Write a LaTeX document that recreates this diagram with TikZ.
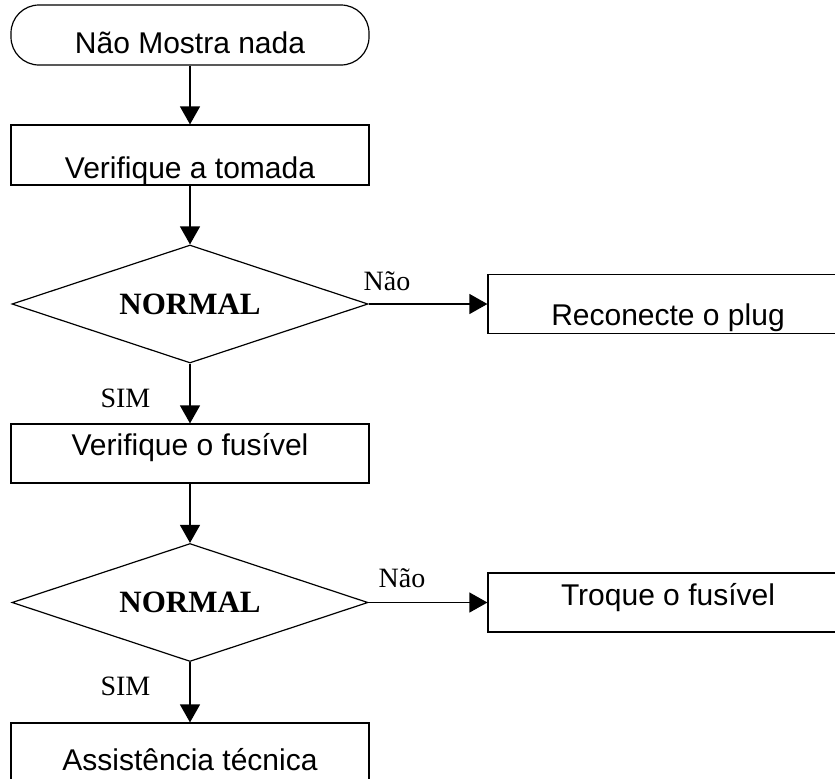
\documentclass[tikz,border=0pt]{standalone}
\usepackage{fontspec}
\setmainfont{Liberation Serif}
\setsansfont{Liberation Sans}
\usetikzlibrary{arrows.meta,shapes.geometric}

\tikzset{
  caixa/.style={draw, rectangle, inner sep=0pt, minimum width=179pt,
    minimum height=29.5pt, font=\sffamily\fontsize{15pt}{18pt}\selectfont},
  inicio/.style={caixa, rounded corners=14pt, minimum height=30pt},
  decisao/.style={draw, diamond, aspect=3, inner sep=0pt, minimum width=178pt,
    minimum height=59pt, font=\bfseries\fontsize{15.5pt}{18pt}\selectfont},
  rotulo/.style={anchor=base west, inner sep=0pt,
    font=\fontsize{14pt}{16pt}\selectfont}
}

\begin{document}
\begin{tikzpicture}[x=0.5pt, y=-0.5pt, line width=0.6pt,
    >={Triangle[width=10pt,length=9pt]}]
  \clip (0,0) rectangle (835,778);
  \node [inicio, text height=24pt, text depth=6pt] (1) at (190,35)
    {Não Mostra nada};
  \node [caixa, minimum height=30pt, text height=26.5pt, text depth=3.5pt] (2) at (190,155)
    {Verifique a tomada};
  \node [decisao] (3) at (190,304)
    {NORMAL};
  \node [caixa, minimum width=180pt, text height=25.5pt, text depth=4pt] (4) at (668,304)
    {Reconecte o plug};
  \node [caixa, text height=15.5pt, text depth=14pt] (5) at (190,453.5)
    {Verifique o fusível};
  \node [decisao] (6) at (190,602.5)
    {NORMAL};
  \node [caixa, minimum width=180pt, text height=16pt, text depth=13.5pt] (7) at (668,602.5)
    {Troque o fusível};
  \node [caixa, text height=23.5pt, text depth=6pt] (8) at (190,752.5)
    {Assistência técnica};
  % rotulos das saidas
  \node [rotulo] (n1) at (363,290) {Não};
  \node [rotulo] (s1) at (100,407) {SIM};
  \node [rotulo] (n2) at (378,587) {Não};
  \node [rotulo] (s2) at (100,695) {SIM};
  \draw [->] (1) -- (2);
  \draw [->] (2) -- (3);
  \draw [->] (3) -- (4);
  \draw [->] (3) -- (5);
  \draw [->] (5) -- (6);
  \draw [->] (6) -- (7);
  \draw [->] (6) -- (8);
\end{tikzpicture}
\end{document}
